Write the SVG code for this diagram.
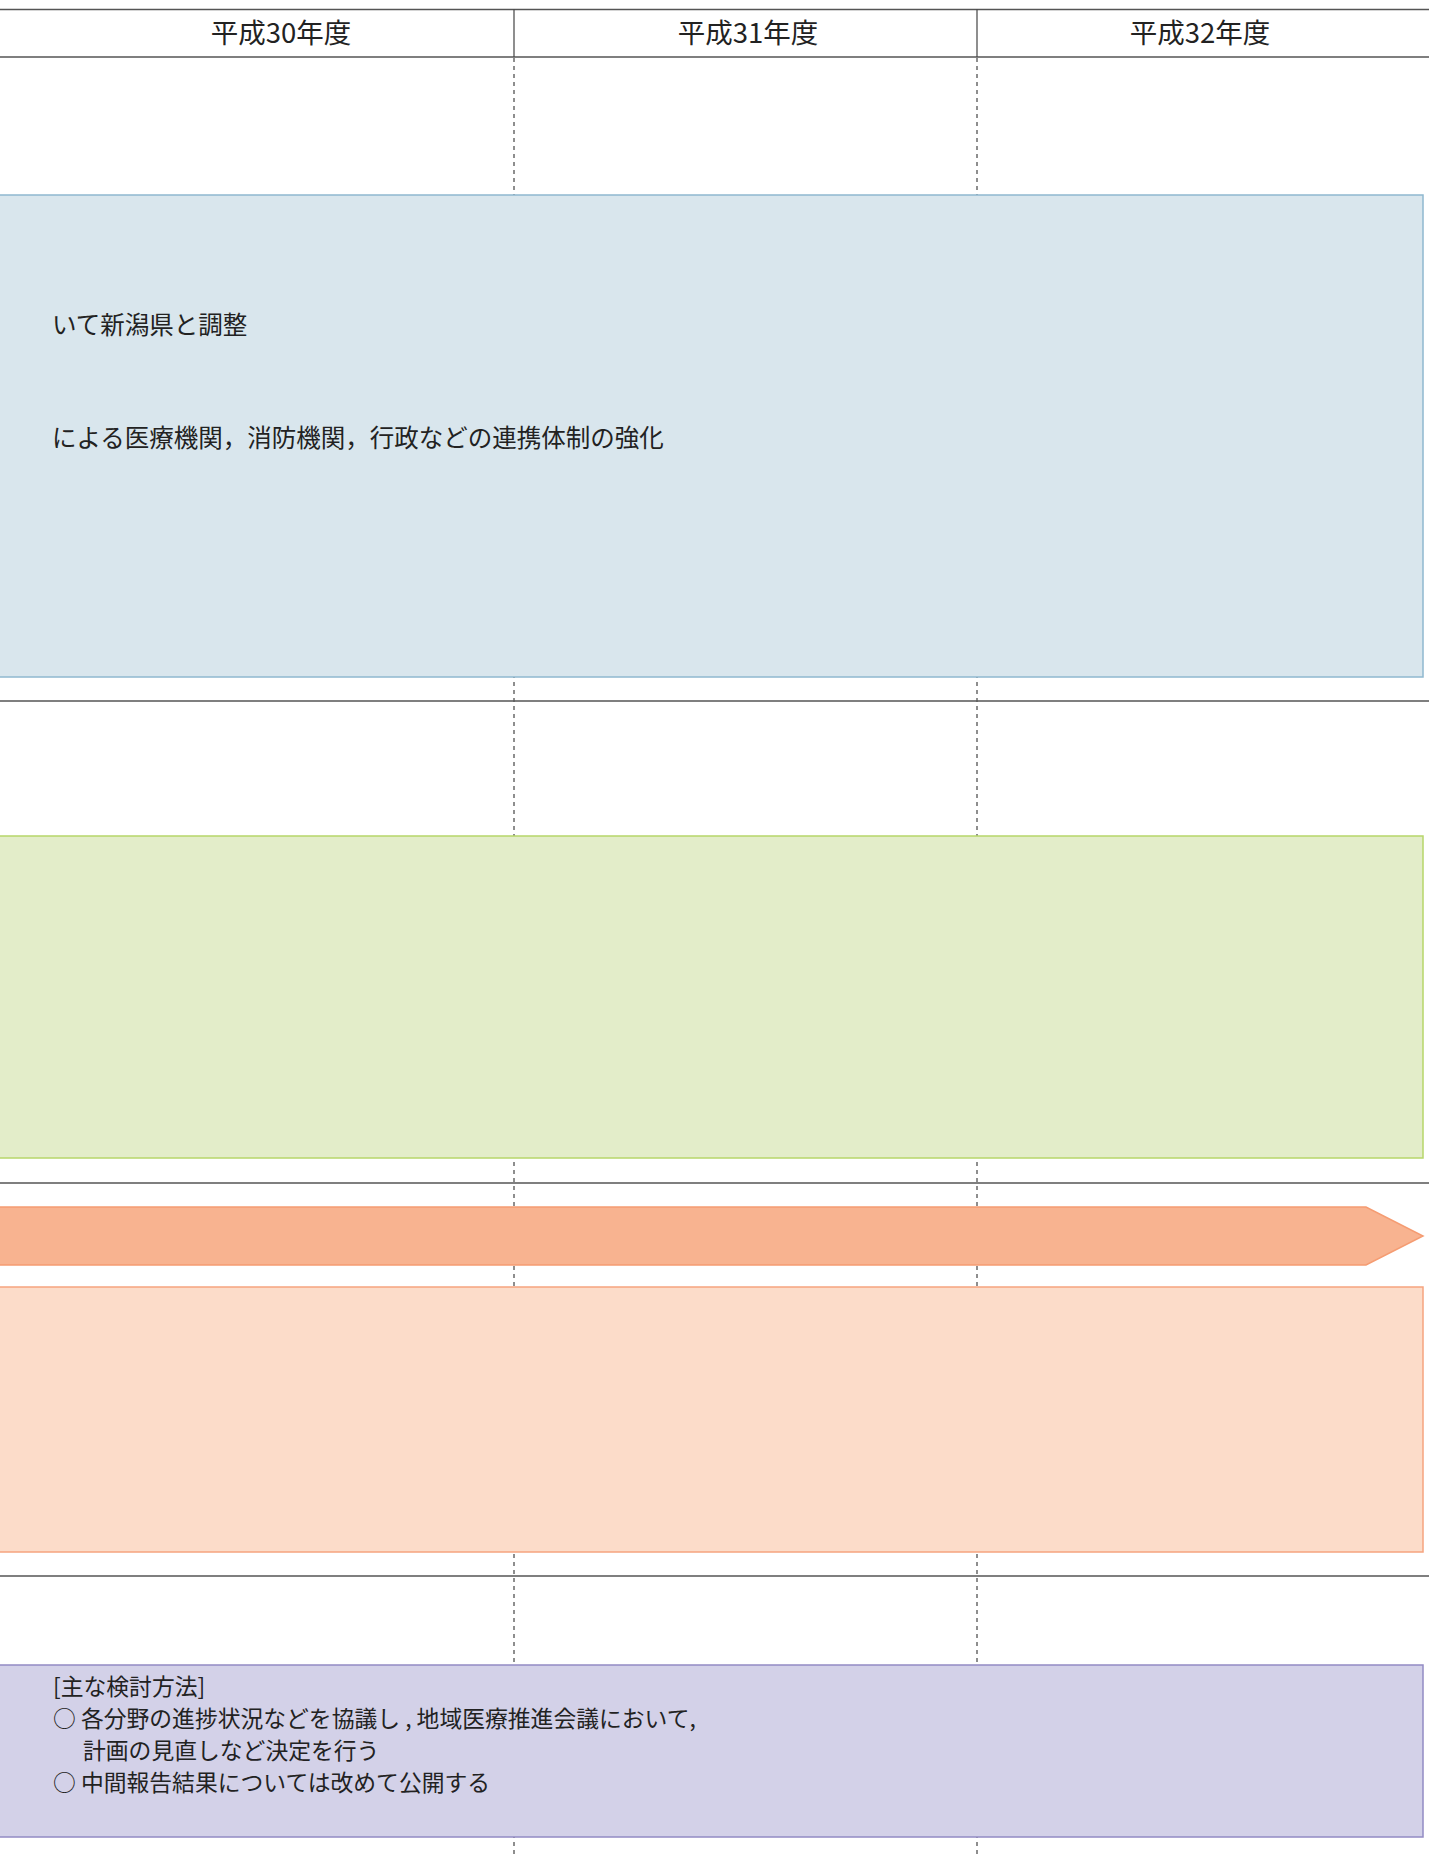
<svg xmlns="http://www.w3.org/2000/svg" width="1429" height="1854" viewBox="0 0 1429 1854">
<style>
.t{font-family:"Noto Sans CJK JP","Noto Sans",sans-serif;fill:#222}
.h{font-size:27.5px;text-anchor:middle}
.b{font-size:24.5px}
.p{font-size:22.8px}
.hl{stroke:#555;stroke-width:1.5;fill:none}
.dv{stroke:#444;stroke-width:1.2;stroke-dasharray:4 4;fill:none}
</style>
<rect width="1429" height="1854" fill="#fff"/>
<g id="grid">
<line class="hl" x1="0" y1="9.5" x2="1429" y2="9.5"/>
<line class="hl" x1="0" y1="57" x2="1429" y2="57"/>
<line stroke="#444" stroke-width="1.2" x1="514" y1="9.5" x2="514" y2="57"/>
<line stroke="#444" stroke-width="1.2" x1="977" y1="9.5" x2="977" y2="57"/>
<line class="dv" x1="514" y1="58" x2="514" y2="1854"/>
<line class="dv" x1="977" y1="58" x2="977" y2="1854"/>
<line class="hl" x1="0" y1="701" x2="1429" y2="701"/>
<line class="hl" x1="0" y1="1183" x2="1429" y2="1183"/>
<line class="hl" x1="0" y1="1576" x2="1429" y2="1576"/>
</g>
<g id="header">
<text class="t h" x="281" y="43">平成30年度</text>
<text class="t h" x="748" y="43">平成31年度</text>
<text class="t h" x="1200" y="43">平成32年度</text>
</g>
<g id="blue-box">
<rect x="-2" y="195" width="1425" height="482" fill="#d9e6ed" stroke="#8fb8cf" stroke-width="1.5"/>
<text class="t b" x="52" y="334">いて新潟県と調整</text>
<text class="t b" x="52" y="447">による医療機関，消防機関，行政などの連携体制の強化</text>
</g>
<g id="green-box">
<rect x="-2" y="836" width="1425" height="322" fill="#e3edc9" stroke="#b7d66a" stroke-width="1.5"/>
</g>
<g id="arrow">
<polygon points="-2,1207 1366,1207 1423,1236 1366,1265 -2,1265" fill="#f8b390" stroke="#f59c72" stroke-width="1.5"/>
</g>
<g id="peach-box">
<rect x="-2" y="1287" width="1425" height="265" fill="#fcdcc9" stroke="#f6a47f" stroke-width="1.5"/>
</g>
<g id="purple-box">
<rect x="-2" y="1665" width="1425" height="172" fill="#d3d1e8" stroke="#928bc4" stroke-width="1.5"/>
<text class="t p" x="53" y="1695">[主な検討方法]</text>
<text class="t p" x="53" y="1727">○ 各分野の進捗状況などを協議し , 地域医療推進会議において,</text>
<text class="t p" x="83" y="1759">計画の見直しなど決定を行う</text>
<text class="t p" x="53" y="1791">○ 中間報告結果については改めて公開する</text>
</g>
</svg>
